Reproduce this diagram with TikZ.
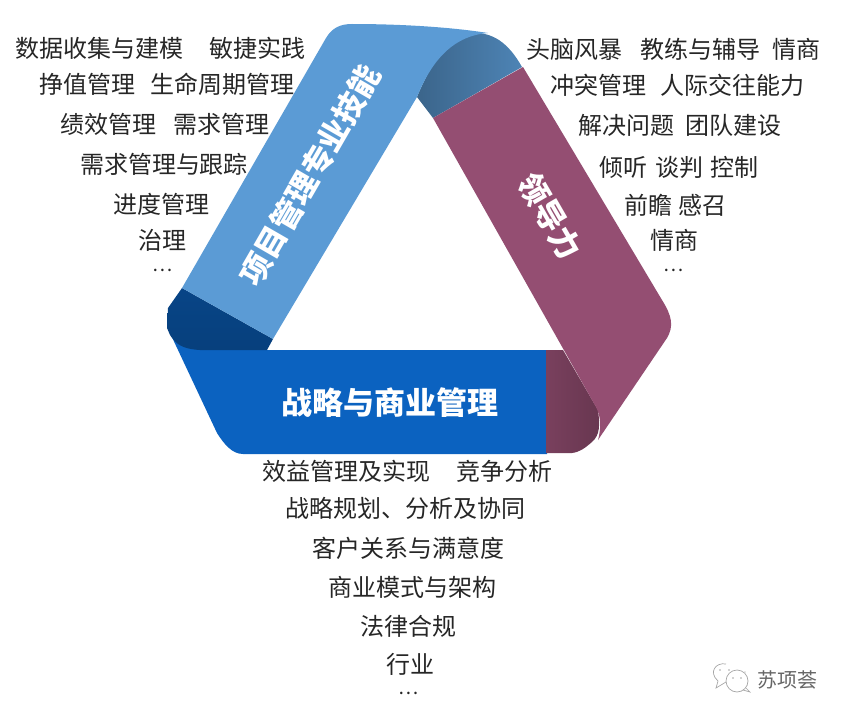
\documentclass[tikz,border=0pt]{standalone}
\usepackage{fontspec}
\newfontfamily\cjk{Noto Sans CJK SC}
\definecolor{bandblue}{HTML}{5B9BD5}
\definecolor{bandnavy}{HTML}{0B62C0}
\definecolor{bandplum}{HTML}{944E72}
\tikzset{
  skill/.style={font=\cjk\fontsize{24}{24}\selectfont, text=black!85, inner sep=0pt},
  moredots/.style={font=\cjk\fontsize{19}{19}\selectfont, text=black!85, inner sep=0pt},
  bandtitle/.style={font=\cjk\bfseries\fontsize{31}{31}\selectfont, text=white, inner sep=0pt},
  bubble/.style={draw=black!35, line width=0.7pt},
}
\begin{document}
\begin{tikzpicture}[x=1pt, y=-1pt]
      \useasboundingbox (0,0) rectangle (844,717);
      %
      \fill[bandnavy] (267,350) -- (547,350) -- (547,454) -- (243,454)
        .. controls (232,454) and (224,444) .. (217,433) -- (170,333) -- cycle; % bottom band
      \shade[top color=black!30!bandnavy, bottom color=black!35!bandnavy]
        (182,288) -- (168,308) -- (167,328) -- (170,335)
        .. controls (176,344) and (182,349) .. (200,350) -- (267,350) -- (273,339) -- cycle; % fold bottom left
      \shade[left color=black!35!bandblue, right color=black!15!bandblue]
        (417,97) .. controls (430,65) and (448,38) .. (472,33)
        .. controls (492,32) and (508,42) .. (522,67) -- (433,118) -- cycle; % fold top
      \fill[bandblue] (182,288) -- (326,38) .. controls (332,28) and (340,24) .. (352,24)
        .. controls (400,24) and (450,27) .. (488,33)
        .. controls (450,36) and (430,65) .. (417,97) -- (273,339) -- cycle; % left band
      \shade[left color=black!18!bandplum, right color=black!30!bandplum]
        (546,350) -- (563,350) -- (598,410)
        .. controls (600,425) and (600,435) .. (592,442)
        .. controls (585,448) and (580,452) .. (572,453) -- (546,453) -- cycle; % fold bottom right
      \fill[bandplum] (523,67) -- (662,300) .. controls (672,316) and (674,326) .. (667,338)
        -- (598,440) .. controls (602,425) and (600,415) .. (596,407) -- (433,118) -- cycle; % right band
      %
      \node[bandtitle, rotate=60] (pmtitle) at (310,175) {项目管理专业技能};
      \node[bandtitle, rotate=-60] (leadtitle) at (550,216) {领导力};
      \node[bandtitle] (stratitle) at (390,403) {战略与商业管理};
      %
      \node[skill] (data) at (99.5,48) {数据收集与建模};   % left column
      \node[skill] (agile) at (257,48) {敏捷实践};
      \node[skill] (earned) at (87,84) {挣值管理};
      \node[skill] (cycle) at (222,84) {生命周期管理};
      \node[skill] (perf) at (108,124) {绩效管理};
      \node[skill] (reqs) at (221,124) {需求管理};
      \node[skill] (trace) at (164,164) {需求管理与跟踪};
      \node[skill] (sched) at (161,204) {进度管理};
      \node[skill] (gov) at (162,240) {治理};
      \node[moredots] (leftmore) at (163,270) {…};
      %
      \node[skill] (brain) at (574,49) {头脑风暴};         % right column
      \node[skill] (coach) at (700,49) {教练与辅导};
      \node[skill] (eqtop) at (796,49) {情商};
      \node[skill] (conflict) at (598,85) {冲突管理};
      \node[skill] (social) at (732,85) {人际交往能力};
      \node[skill] (solve) at (626,125) {解决问题};
      \node[skill] (team) at (733,125) {团队建设};
      \node[skill] (listen) at (623,167) {倾听};
      \node[skill] (nego) at (679,167) {谈判};
      \node[skill] (ctrl) at (734,167) {控制};
      \node[skill] (vision) at (648,205) {前瞻};
      \node[skill] (inspire) at (702,205) {感召};
      \node[skill] (eq) at (674,240) {情商};
      \node[moredots] (rightmore) at (674,270) {…};
      %
      \node[skill] (benefit) at (346,471) {效益管理及实现};   % bottom column
      \node[skill] (compete) at (504,471) {竞争分析};
      \node[skill] (plan) at (405,508) {战略规划、分析及协同};
      \node[skill] (client) at (408,548) {客户关系与满意度};
      \node[skill] (model) at (412,587) {商业模式与架构};
      \node[skill] (legal) at (408,626) {法律合规};
      \node[skill] (trade) at (410,664) {行业};
      \node[moredots] (lowmore) at (409,693) {…};
      %
      \draw[bubble] (726,682) -- (716,688) -- (718,681)
        .. controls (708,672) and (716,662) .. (726,664);  % watermark
      \draw[bubble] (737,671) circle (0.1) (745,672) circle (0.1);
      \draw[bubble, fill=white] (737,681) circle (11);
      \draw[bubble] (746,688) -- (750,692) -- (743,690);
      \draw[bubble] (733,678) circle (0.4) (741,678) circle (0.4);
      \draw[bubble] (720,670) circle (0.4) (729,670) circle (0.4);
      \node[skill, font=\cjk\fontsize{20}{20}\selectfont, text=black!60] (mark) at (787,680) {苏项荟};
      %
    \end{tikzpicture}
\end{document}
